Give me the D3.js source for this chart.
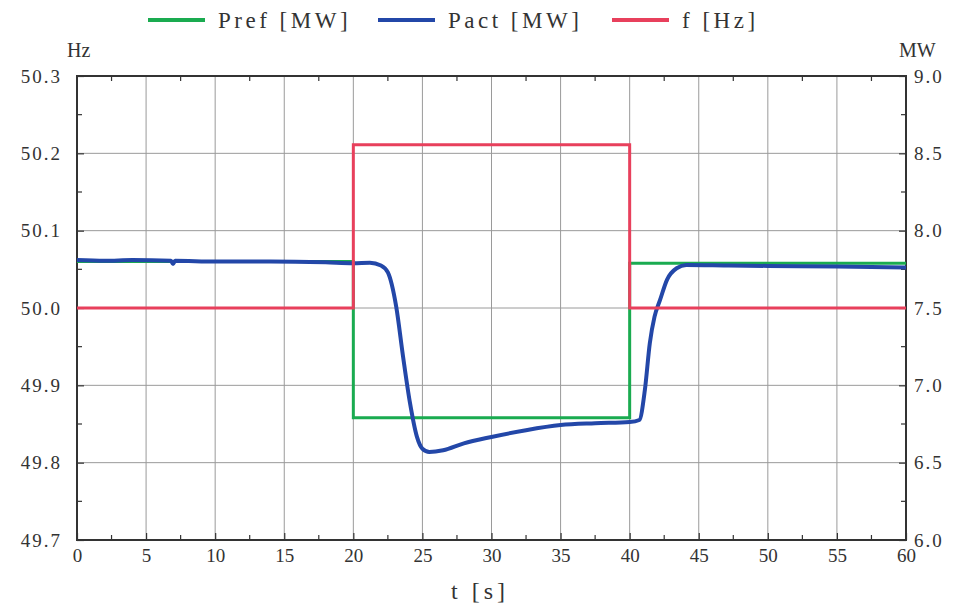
<!DOCTYPE html>
<html><head><meta charset="utf-8">
<script src="https://cdn.jsdelivr.net/npm/d3@7"></script>
<style>
body{margin:0;background:#fff;}
svg{display:block;}
</style></head>
<body><svg id="c" width="967" height="605" font-family="Liberation Serif, DejaVu Serif"></svg>
<script>
// ---- data ----
const timeTicks = [0,5,10,15,20,25,30,35,40,45,50,55,60];
const hzTicks = [49.7,49.8,49.9,50.0,50.1,50.2,50.3];
const mwTicks = [6.0,6.5,7.0,7.5,8.0,8.5,9.0];
const seriesNames = ["Pref [MW]","Pact [MW]","f [Hz]"];
const seriesColors = ["#1aab50","#2347a8","#e8405c"];

const freqT = [0,20,20,40,40,60];
const freqV = [50.0,50.0,50.211,50.211,50.0,50.0];

const prefT = [0,20,20,40,40,60];
const prefV = [7.80,7.80,6.79,6.79,7.79,7.79];

const pactT = [0,2,4,6.8,6.95,7.1,10,14,18,20,21.2,22.0,22.5,23.1,23.6,24.1,24.6,25.0,25.5,26.5,28,30,32.5,35,37.5,40,40.7,41.1,41.46,41.8,42.2,42.7,43.4,44.1,47,50,55,60];
const pactV = [7.81,7.805,7.81,7.805,7.785,7.805,7.80,7.80,7.795,7.79,7.793,7.775,7.73,7.51,7.185,6.886,6.668,6.59,6.569,6.58,6.625,6.666,6.71,6.743,6.755,6.763,6.776,6.97,7.274,7.444,7.552,7.682,7.757,7.778,7.775,7.772,7.768,7.762];

// ---- layout ----
const L=77,R=906,T=76,B=540;
const FF="Liberation Serif, DejaVu Serif";
const svg=d3.select("#c");
const x=d3.scaleLinear().domain([0,60]).range([L,R]);
const yHz=d3.scaleLinear().domain([49.7,50.3]).range([B,T]);
const yMW=d3.scaleLinear().domain([6,9]).range([B,T]);

function txt(sel,size,ls){
  return sel.attr("font-family",FF).attr("font-size",size).attr("fill","#333").attr("letter-spacing",ls||0);
}

// grid
const g=svg.append("g");
g.selectAll(".vg").data(timeTicks.slice(1,-1)).join("line")
 .attr("x1",d=>x(d)).attr("x2",d=>x(d)).attr("y1",T).attr("y2",B)
 .attr("stroke","#9a9a9a").attr("stroke-width",1);
g.selectAll(".hg").data(hzTicks.slice(1,-1)).join("line")
 .attr("x1",L).attr("x2",R).attr("y1",d=>yHz(d)).attr("y2",d=>yHz(d))
 .attr("stroke","#9a9a9a").attr("stroke-width",1);

// minor ticks
const minorT=d3.range(2.5,60,5);
const minorHz=d3.range(49.75,50.3,0.1);
const mt=svg.append("g").attr("stroke","#333").attr("stroke-width",1.2);
minorT.forEach(t=>{
  mt.append("line").attr("x1",x(t)).attr("x2",x(t)).attr("y1",B).attr("y2",B-5);
  mt.append("line").attr("x1",x(t)).attr("x2",x(t)).attr("y1",T).attr("y2",T+5);
});
minorHz.forEach(v=>{
  mt.append("line").attr("x1",L).attr("x2",L+5).attr("y1",yHz(v)).attr("y2",yHz(v));
  mt.append("line").attr("x1",R).attr("x2",R-5).attr("y1",yHz(v)).attr("y2",yHz(v));
});

// axes
const ax=svg.append("g").attr("transform",`translate(0,${B})`)
 .call(d3.axisBottom(x).tickValues(timeTicks).tickSizeInner(-7).tickSizeOuter(0).tickPadding(15).tickFormat(d3.format("d")));
const axL=svg.append("g").attr("transform",`translate(${L},0)`)
 .call(d3.axisLeft(yHz).tickValues(hzTicks).tickSizeInner(-7).tickSizeOuter(0).tickPadding(15).tickFormat(d3.format(".1f")));
const axR=svg.append("g").attr("transform",`translate(${R},0)`)
 .call(d3.axisRight(yMW).tickValues(mwTicks).tickSizeInner(-7).tickSizeOuter(0).tickPadding(8).tickFormat(d3.format(".1f")));
[ax,axL,axR].forEach(a=>{
  a.select(".domain").remove();
  a.attr("font-family",FF).attr("font-size",19);
  a.selectAll("line").attr("stroke","#333").attr("stroke-width",1.2);
  txt(a.selectAll("text"),19,2);
});
ax.selectAll("text").attr("dy","0.35em").attr("letter-spacing",0);

// frame
svg.append("rect").attr("x",L).attr("y",T).attr("width",R-L).attr("height",B-T)
 .attr("fill","none").attr("stroke","#333").attr("stroke-width",2);

// series
svg.append("defs").append("clipPath").attr("id","cp").append("rect")
 .attr("x",L).attr("y",T).attr("width",R-L).attr("height",B-T);
const lines=svg.append("g").attr("clip-path","url(#cp)");
const lineMW=d3.line().x(d=>x(d[0])).y(d=>yMW(d[1]));
const lineHz=d3.line().x(d=>x(d[0])).y(d=>yHz(d[1]));
lines.append("path").datum(prefT.map((t,i)=>[t,prefV[i]])).attr("d",lineMW)
 .attr("fill","none").attr("stroke",seriesColors[0]).attr("stroke-width",3);
lines.append("path").datum(pactT.map((t,i)=>[t,pactV[i]])).attr("d",d3.line().x(d=>x(d[0])).y(d=>yMW(d[1])).curve(d3.curveMonotoneX))
 .attr("fill","none").attr("stroke",seriesColors[1]).attr("stroke-width",4).attr("stroke-linejoin","round");
lines.append("path").datum(freqT.map((t,i)=>[t,freqV[i]])).attr("d",lineHz)
 .attr("fill","none").attr("stroke",seriesColors[2]).attr("stroke-width",3);

// unit labels
txt(svg.append("text").attr("x",67).attr("y",57),20).text("Hz");
txt(svg.append("text").attr("x",899).attr("y",57),20).text("MW");
// x title
txt(svg.append("text").attr("x",480).attr("y",599).attr("text-anchor","middle"),24,4).text("t [s]");

// legend
const legX=[148,378,612];
seriesNames.forEach((n,i)=>{
  svg.append("line").attr("x1",legX[i]).attr("x2",legX[i]+57).attr("y1",20).attr("y2",20)
   .attr("stroke",seriesColors[i]).attr("stroke-width",4);
  txt(svg.append("text").attr("x",legX[i]+70).attr("y",28),23,3.5).text(n);
});
</script></body></html>
